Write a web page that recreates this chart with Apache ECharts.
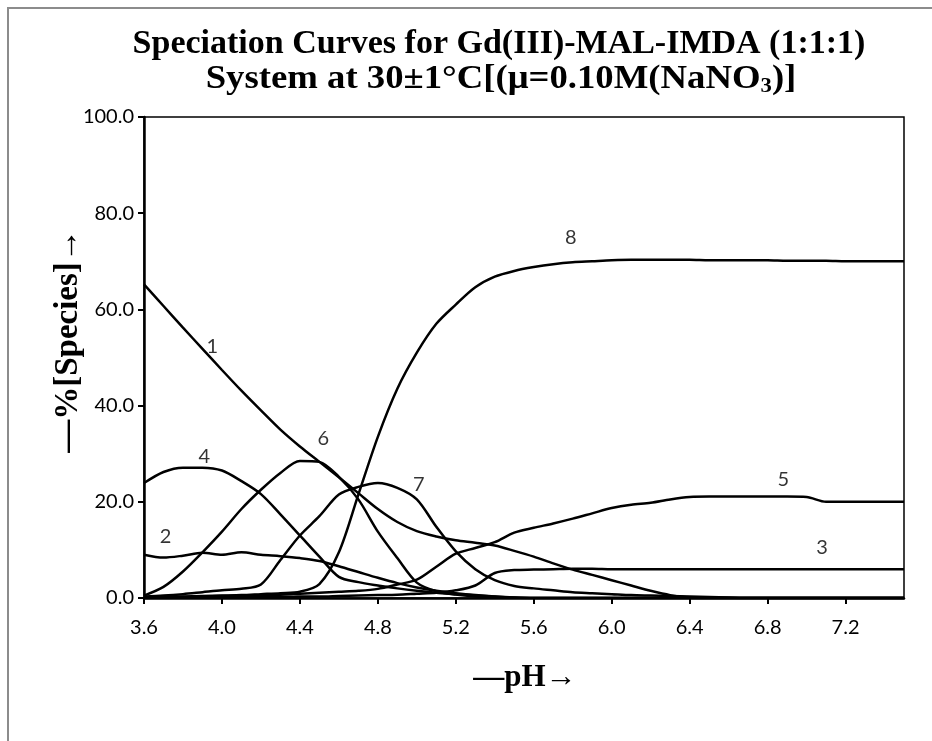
<!DOCTYPE html>
<html>
<head>
<meta charset="utf-8">
<title>Speciation Curves for Gd(III)-MAL-IMDA</title>
<script src="https://cdn.jsdelivr.net/npm/echarts@6/dist/echarts.min.js"></script>
<style>
  html, body { margin: 0; padding: 0; background: #ffffff; }
  #chart { width: 932px; height: 741px; }
</style>
</head>
<body>
<div id="chart"></div>
<script>
// pH grid shared by all species curves
const pH = [3.6, 3.7, 3.8, 3.9, 4.0, 4.1, 4.2, 4.3, 4.4, 4.5,
            4.6, 4.7, 4.8, 4.9, 5.0, 5.1, 5.2, 5.3, 5.4, 5.5,
            5.6, 5.7, 5.8, 5.9, 6.0, 6.1, 6.2, 6.3, 6.4, 6.5,
            6.6, 6.7, 6.8, 6.9, 7.0, 7.1, 7.2, 7.3, 7.4, 7.5];

// % species for each complex along the pH grid
const species1 = [65.2, 60.7, 56.2, 51.8, 47.4, 43.1, 39.0, 35.0, 31.5, 28.3,
                  25.1, 21.8, 18.5, 15.8, 13.9, 12.8, 12.0, 11.5, 10.9, 9.8,
                  8.6, 7.2, 5.9, 4.8, 3.7, 2.6, 1.5, 0.6, 0.1, 0,
                  0, 0, 0, 0, 0, 0, 0, 0, 0, 0];
const species2 = [9.0, 8.4, 8.8, 9.4, 9.0, 9.5, 9.0, 8.7, 8.3, 7.7,
                  6.6, 5.4, 4.2, 3.1, 2.2, 1.5, 1.0, 0.6, 0.3, 0.1,
                  0, 0, 0, 0, 0, 0, 0, 0, 0, 0,
                  0, 0, 0, 0, 0, 0, 0, 0, 0, 0];
const species3 = [0, 0, 0.1, 0.1, 0.1, 0.2, 0.2, 0.2, 0.3, 0.3,
                  0.4, 0.5, 0.6, 0.7, 0.9, 1.1, 1.6, 2.6, 5.2, 5.8,
                  5.9, 6.0, 6.1, 6.1, 6.0, 6.0, 6.0, 6.0, 6.0, 6.0,
                  6.0, 6.0, 6.0, 6.0, 6.0, 6.0, 6.0, 6.0, 6.0, 6.0];
const species4 = [23.9, 26.2, 27.1, 27.1, 26.5, 24.3, 21.6, 17.4, 13.0, 8.6,
                  4.4, 3.3, 2.6, 2.0, 1.5, 1.1, 0.8, 0.5, 0.3, 0.1,
                  0, 0, 0, 0, 0, 0, 0, 0, 0, 0,
                  0, 0, 0, 0, 0, 0, 0, 0, 0, 0];
const species5 = [0, 0.1, 0.2, 0.3, 0.4, 0.5, 0.6, 0.7, 0.9, 1.1,
                  1.3, 1.5, 1.9, 2.8, 3.8, 6.5, 9.2, 10.4, 11.6, 13.6,
                  14.6, 15.5, 16.5, 17.6, 18.7, 19.4, 19.8, 20.5, 21.0, 21.1,
                  21.1, 21.1, 21.1, 21.1, 21.0, 20.0, 20.0, 20.0, 20.0, 20.0];
const species6 = [0.5, 2.3, 5.5, 9.5, 13.8, 18.5, 22.5, 26.0, 28.5, 28.3,
                  25.2, 20.5, 13.8, 8.3, 3.2, 1.4, 0.7, 0.3, 0.1, 0,
                  0, 0, 0, 0, 0, 0, 0, 0, 0, 0,
                  0, 0, 0, 0, 0, 0, 0, 0, 0, 0];
const species7 = [0.3, 0.5, 0.8, 1.2, 1.6, 1.9, 2.8, 7.9, 13.0, 17.0,
                  21.5, 23.1, 23.9, 22.9, 20.5, 14.8, 9.7, 6.0, 3.7, 2.5,
                  2.0, 1.6, 1.2, 1.0, 0.8, 0.6, 0.5, 0.4, 0.3, 0.2,
                  0.1, 0, 0, 0, 0, 0, 0, 0, 0, 0];
const species8 = [0.1, 0.2, 0.3, 0.4, 0.5, 0.6, 0.8, 1.0, 1.3, 2.9,
                  9.5, 21.5, 33.5, 43.5, 51.0, 57.0, 61.0, 64.6, 66.8, 68.0,
                  68.8, 69.4, 69.8, 70.0, 70.2, 70.3, 70.3, 70.3, 70.3, 70.2,
                  70.2, 70.2, 70.2, 70.1, 70.1, 70.1, 70.0, 70.0, 70.0, 70.0];

// curve numbers and where they sit (pH, %)
const curveNames = ['1', '2', '3', '4', '5', '6', '7', '8'];
const labelPH    = [3.95, 3.71, 7.08, 3.91, 6.88, 4.52, 5.01, 5.79];
const labelPct   = [52.2, 12.8, 10.4, 29.4, 24.6, 33.1, 23.5, 74.9];

// axis tick labels
const xTicks = [3.6, 4.0, 4.4, 4.8, 5.2, 5.6, 6.0, 6.4, 6.8, 7.2];

const curves = [species1, species2, species3, species4,
                species5, species6, species7, species8];

const tickFont = 'Lato, "Open Sans", sans-serif';
const serifBold = '"Liberation Serif", "Times New Roman", serif';

const chart = echarts.init(document.getElementById('chart'), null, { renderer: 'canvas' });

const lineSeries = curves.map((vals, i) => ({
  name: curveNames[i],
  type: 'line',
  data: pH.map((x, k) => [x, vals[k]]),
  smooth: 0.3,
  showSymbol: false,
  lineStyle: { color: '#000000', width: 2.5 },
  silent: true,
  z: 3
}));

const labelSeries = {
  type: 'scatter',
  data: labelPH.map((x, i) => ({ value: [x, labelPct[i]], name: curveNames[i] })),
  symbolSize: 1,
  itemStyle: { color: 'rgba(0,0,0,0)' },
  label: {
    show: true,
    position: 'inside',
    formatter: p => p.name,
    color: '#000000',
    fontFamily: tickFont,
    fontSize: 20
  },
  silent: true,
  z: 4
};

chart.setOption({
  backgroundColor: '#ffffff',
  animation: false,
  grid: {
    left: 144, right: 28, top: 117, bottom: 143,
    show: true, borderColor: '#000000', borderWidth: 1.5, backgroundColor: 'transparent'
  },
  xAxis: {
    type: 'value',
    min: 3.6, max: 7.5,
    axisLine: { show: true, onZero: false, lineStyle: { color: '#000000', width: 2.5 } },
    axisTick: { show: true, customValues: xTicks, length: 6, lineStyle: { color: '#000000', width: 2 } },
    axisLabel: {
      customValues: xTicks,
      formatter: v => v.toFixed(1),
      color: '#000000', fontFamily: tickFont, fontSize: 20, margin: 20
    },
    splitLine: { show: false }
  },
  yAxis: {
    type: 'value',
    min: 0, max: 100, interval: 20,
    axisLine: { show: true, lineStyle: { color: '#000000', width: 2.5 } },
    axisTick: { show: true, length: 6, lineStyle: { color: '#000000', width: 2 } },
    axisLabel: {
      formatter: v => v.toFixed(1),
      color: '#000000', fontFamily: tickFont, fontSize: 20, margin: 10
    },
    splitLine: { show: false }
  },
  graphic: [
    {
      type: 'rect', silent: true, z: -10,
      shape: { x: 8, y: 8, width: 1200, height: 1200 },
      style: { fill: 'none', stroke: '#8c8c8c', lineWidth: 2 }
    },
    {
      type: 'text', x: 499, y: 44, silent: true,
      style: {
        text: 'Speciation Curves for Gd(III)-MAL-IMDA (1:1:1)',
        font: 'bold 34px ' + serifBold,
        fill: '#000000', textAlign: 'center', textVerticalAlign: 'middle'
      }
    },
    {
      type: 'text', x: 501, y: 79, scaleX: 1.08, silent: true,
      style: {
        text: '{m|System at 30±1°C[(μ=0.10M(NaNO}{s|3}{m|)]}',
        rich: {
          m: { font: 'bold 34px ' + serifBold, fill: '#000000', lineHeight: 36, verticalAlign: 'middle' },
          s: { font: 'bold 21px ' + serifBold, fill: '#000000', lineHeight: 36, verticalAlign: 'bottom', padding: [15, 0, 0, 0] }
        },
        textAlign: 'center', textVerticalAlign: 'middle'
      }
    },
    {
      type: 'text', x: 68, y: 341, rotation: Math.PI / 2, silent: true,
      style: {
        text: '—%[Species]→',
        font: 'bold 33px ' + serifBold,
        fill: '#000000', textAlign: 'center', textVerticalAlign: 'middle'
      }
    },
    {
      type: 'text', x: 525, y: 678, silent: true,
      style: {
        text: '—pH→',
        font: 'bold 31px ' + serifBold,
        fill: '#000000', textAlign: 'center', textVerticalAlign: 'middle'
      }
    }
  ],
  series: lineSeries.concat([labelSeries])
});
</script>
</body>
</html>
